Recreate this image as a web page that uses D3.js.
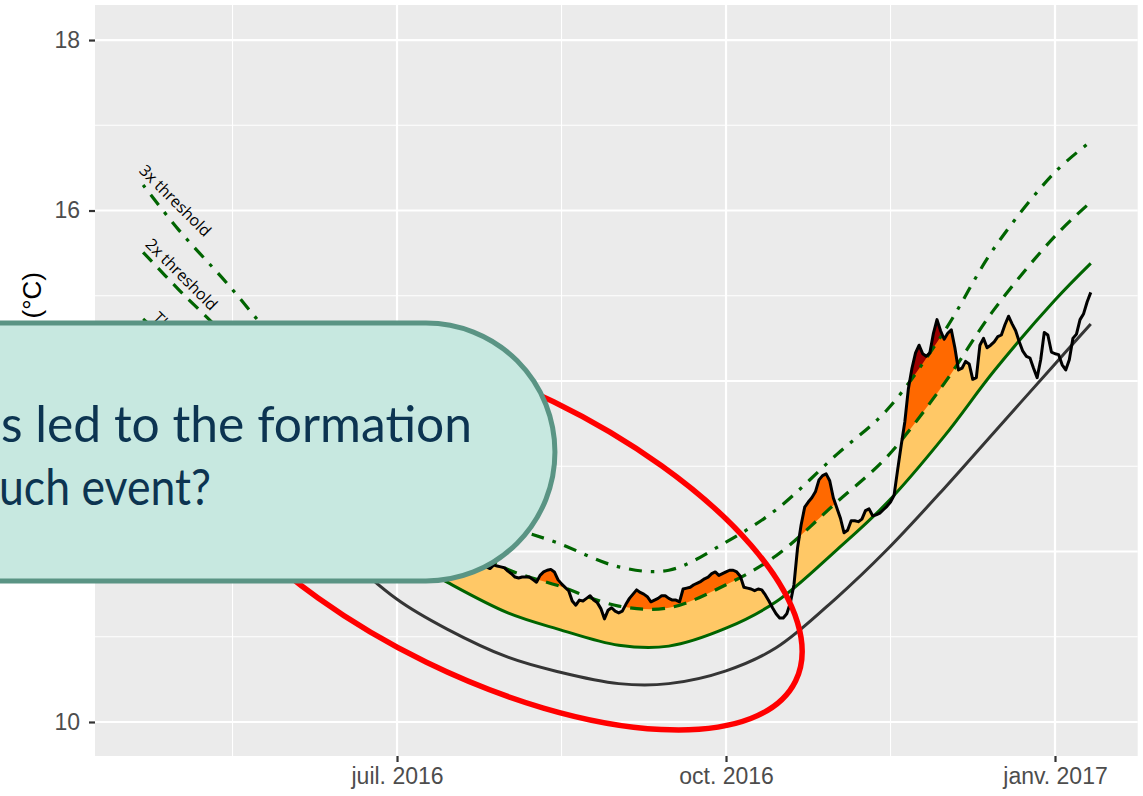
<!DOCTYPE html>
<html>
<head>
<meta charset="utf-8">
<script src="https://cdn.jsdelivr.net/npm/d3@7"></script>
<style>
  body { margin: 0; background: #ffffff; }
  svg { display: block; }
</style>
</head>
<body>
<div id="card"></div>
<script>
// climatology / thresholds at a few dates
const climDates = ["2016-04-21", "2016-05-01", "2016-05-15", "2016-06-01", "2016-06-15",
  "2016-07-01", "2016-07-15", "2016-08-01", "2016-08-15", "2016-09-01", "2016-09-15",
  "2016-10-01", "2016-10-15", "2016-11-01", "2016-11-15", "2016-12-01", "2016-12-15",
  "2017-01-01", "2017-01-11"];
const seasValues = [13.94, 13.66, 13.25, 12.64, 12.02, 11.44, 11.09, 10.76, 10.59, 10.45, 10.45,
  10.60, 10.87, 11.46, 12.02, 12.74, 13.40, 14.20, 14.67];
const threshValues = [14.73, 14.36, 13.87, 13.18, 12.55, 11.98, 11.64, 11.28, 11.09, 10.90, 10.89,
  11.10, 11.41, 12.02, 12.57, 13.35, 14.12, 14.95, 15.38];
const thresh2xValues = [15.51, 15.07, 14.49, 13.72, 13.07, 12.52, 12.19, 11.79, 11.60, 11.36, 11.34,
  11.61, 11.95, 12.58, 13.11, 13.97, 14.84, 15.70, 16.10];
const thresh3xValues = [16.30, 15.77, 15.12, 14.26, 13.60, 13.06, 12.74, 12.31, 12.10, 11.82, 11.78,
  12.11, 12.49, 13.14, 13.66, 14.58, 15.56, 16.45, 16.81];

// daily temperature from tempStart
const tempStart = "2016-07-01";
const tempValues = [
  12.30, 12.25, 12.35, 12.28, 12.20, 12.24, 12.30, 12.22, 12.15, 12.18,
  12.10, 12.05, 12.12, 12.08, 12.00, 11.98, 12.02, 11.95, 11.90, 11.93,
  11.88, 11.85, 11.90, 11.86, 11.84, 11.82, 11.80, 11.84, 11.83, 11.82,
  11.81, 11.77, 11.74, 11.70, 11.69, 11.70, 11.70, 11.70, 11.67, 11.64,
  11.72, 11.76, 11.78, 11.79, 11.76, 11.67, 11.62, 11.58, 11.54, 11.42,
  11.37, 11.43, 11.42, 11.45, 11.48, 11.43, 11.40, 11.33, 11.21, 11.31,
  11.34, 11.30, 11.28, 11.30, 11.38, 11.45, 11.50, 11.55, 11.52, 11.50,
  11.47, 11.41, 11.43, 11.45, 11.48, 11.48, 11.45, 11.43, 11.43, 11.41,
  11.56, 11.57, 11.58, 11.61, 11.63, 11.65, 11.68, 11.70, 11.74, 11.76,
  11.72, 11.74, 11.76, 11.78, 11.78, 11.76, 11.71, 11.58, 11.57, 11.56,
  11.54, 11.56, 11.55, 11.49, 11.42, 11.34, 11.27, 11.22, 11.22, 11.27,
  11.40, 11.61, 12.04, 12.31, 12.52, 12.58, 12.63, 12.70, 12.84, 12.89,
  12.91, 12.83, 12.63, 12.51, 12.39, 12.22, 12.25, 12.36, 12.36, 12.35,
  12.38, 12.48, 12.50, 12.42, 12.43, 12.45, 12.49, 12.53, 12.58, 12.66,
  12.96, 13.25, 13.52, 13.91, 14.15, 14.33, 14.42, 14.32, 14.29, 14.33,
  14.56, 14.72, 14.59, 14.49, 14.56, 14.60, 14.39, 14.13, 14.15, 14.23,
  14.20, 14.02, 14.04, 14.42, 14.50, 14.39, 14.42, 14.46, 14.52, 14.54,
  14.66, 14.76, 14.67, 14.59, 14.46, 14.35, 14.29, 14.27, 14.15, 14.04,
  14.25, 14.57, 14.54, 14.34, 14.32, 14.31, 14.19, 14.13, 14.25, 14.50,
  14.55, 14.72, 14.79, 14.93, 15.04
];

const xTickDates = ["2016-07-01", "2016-10-01", "2017-01-01"];
const xTickLabels = ["juil. 2016", "oct. 2016", "janv. 2017"];
const xMinorDates = ["2016-05-16", "2016-08-16", "2016-11-16"];
const yTicks = [10, 12, 14, 16, 18];
const yMinor = [11, 13, 15, 17];

const calloutLines = ["s led to the formation", "uch event?"];

const W = 1143, H = 796;
const margin = {top: 5, left: 95};
const width = 1042.7, height = 751;

const parseDate = d3.utcParse("%Y-%m-%d");

function series(values){
  return climDates.map((d, i) => ({date: parseDate(d), value: values[i]}));
}
const seas = series(seasValues);
const thresh = series(threshValues);
const thresh2x = series(thresh2xValues);
const thresh3x = series(thresh3xValues);
const t0 = parseDate(tempStart);
const temp = tempValues.map((v, i) => ({date: d3.utcDay.offset(t0, i), value: v}));

const svg = d3.select("#card").append("svg")
  .attr("width", W)
  .attr("height", H);

const defs = svg.append("defs");

const chart = svg.append("g")
  .attr("transform", "translate(" + margin.left + "," + margin.top + ")");

//scales
const x = d3.scaleUtc()
  .domain([Date.UTC(2016, 3, 7, 13), Date.UTC(2017, 0, 24, 3)])
  .range([0, width]);
const y = d3.scaleLinear()
  .domain([9.601, 18.411])
  .range([height, 0]);

//panel background
chart.append("rect")
  .attr("width", width)
  .attr("height", height)
  .attr("fill", "#EBEBEB");

//gridlines
chart.selectAll(".ygrid-minor").data(yMinor).enter().append("line")
  .attr("x1", 0).attr("x2", width)
  .attr("y1", d => y(d)).attr("y2", d => y(d))
  .attr("stroke", "#fff").attr("stroke-width", 1.1);
chart.selectAll(".xgrid-minor").data(xMinorDates).enter().append("line")
  .attr("y1", 0).attr("y2", height)
  .attr("x1", d => x(parseDate(d))).attr("x2", d => x(parseDate(d)))
  .attr("stroke", "#fff").attr("stroke-width", 1.1);
chart.selectAll(".ygrid").data(yTicks).enter().append("line")
  .attr("x1", 0).attr("x2", width)
  .attr("y1", d => y(d)).attr("y2", d => y(d))
  .attr("stroke", "#fff").attr("stroke-width", 2.2);
chart.selectAll(".xgrid").data(xTickDates).enter().append("line")
  .attr("y1", 0).attr("y2", height)
  .attr("x1", d => x(parseDate(d))).attr("x2", d => x(parseDate(d)))
  .attr("stroke", "#fff").attr("stroke-width", 2.2);

//line and area generators
const smooth = d3.curveCatmullRom.alpha(0.5);
const climLine = d3.line().x(d => x(d.date)).y(d => y(d.value)).curve(smooth);
const aboveArea = d3.area().x(d => x(d.date)).y0(-50).y1(d => y(d.value)).curve(smooth);
const tempLine = d3.line().x(d => x(d.date)).y(d => y(d.value));
const tempArea = d3.area().x(d => x(d.date)).y0(height + 50).y1(d => y(d.value));

//flames: area under temperature clipped above each threshold
const flames = [
  {id: "clip1x", data: thresh, fill: "#ffc866"},
  {id: "clip2x", data: thresh2x, fill: "#ff6900"},
  {id: "clip3x", data: thresh3x, fill: "#9e0000"}
];
flames.forEach(f => {
  defs.append("clipPath").attr("id", f.id)
    .append("path").attr("d", aboveArea(f.data));
  chart.append("path")
    .attr("d", tempArea(temp))
    .attr("fill", f.fill)
    .attr("clip-path", "url(#" + f.id + ")");
});

//lines
chart.append("path").attr("d", climLine(seas))
  .attr("fill", "none").attr("stroke", "#353535").attr("stroke-width", 3);
chart.append("path").attr("d", climLine(thresh))
  .attr("fill", "none").attr("stroke", "#006400").attr("stroke-width", 3);
chart.append("path").attr("d", climLine(thresh2x))
  .attr("fill", "none").attr("stroke", "#006400").attr("stroke-width", 3.2)
  .attr("stroke-dasharray", "13,9");
chart.append("path").attr("d", climLine(thresh3x))
  .attr("fill", "none").attr("stroke", "#006400").attr("stroke-width", 3.2)
  .attr("stroke-dasharray", "3.5,9,13,9");
chart.append("path").attr("d", tempLine(temp))
  .attr("fill", "none").attr("stroke", "#000").attr("stroke-width", 3)
  .attr("stroke-linejoin", "round");

//labels on the threshold lines
const lineLabels = [
  {text: "3x threshold", data: thresh3x, dx: -13},
  {text: "2x threshold", data: thresh2x, dx: -4},
  {text: "Threshold", data: thresh, dx: 6}
];
lineLabels.forEach(l => {
  const p = l.data[0];
  chart.append("text")
    .attr("transform", "translate(" + x(p.date) + "," + y(p.value) + ") rotate(45)")
    .attr("x", l.dx).attr("y", -6)
    .style("font-family", "'Open Sans', sans-serif")
    .style("font-size", "16px")
    .style("fill", "#000")
    .text(l.text);
});

//axes
const yAxis = chart.append("g")
  .call(d3.axisLeft(y).tickValues(yTicks).tickSize(6).tickPadding(9).tickFormat(d3.format("d")));
const xAxis = chart.append("g")
  .attr("transform", "translate(0," + height + ")")
  .call(d3.axisBottom(x).tickValues(xTickDates.map(parseDate)).tickSize(6).tickPadding(6)
    .tickFormat((d, i) => xTickLabels[i]));
[yAxis, xAxis].forEach(a => {
  a.select(".domain").remove();
  a.selectAll("line").attr("stroke", "#333").attr("stroke-width", 2.2);
  a.selectAll("text")
    .style("font-family", "'Liberation Sans', Arial, sans-serif")
    .style("font-size", "23px")
    .style("fill", "#4D4D4D");
});

//y axis title
svg.append("text")
  .attr("transform", "translate(41,272) rotate(-90)")
  .attr("text-anchor", "end")
  .style("font-family", "'Liberation Sans', Arial, sans-serif")
  .style("font-size", "26px")
  .style("fill", "#000")
  .text("Temperature (°C)");

//red ellipse annotation
svg.append("ellipse")
  .attr("cx", 490).attr("cy", 532)
  .attr("rx", 340).attr("ry", 145)
  .attr("transform", "rotate(26,490,532)")
  .attr("fill", "none")
  .attr("stroke", "#ff0000")
  .attr("stroke-width", 5.5);

//callout box on top
svg.append("path")
  .attr("d", "M-20,323 H426 A129,129 0 0 1 426,581 H-20 Z")
  .attr("fill", "#C7E8E0")
  .attr("stroke", "#5A9484")
  .attr("stroke-width", 5);

// the callout text is cut at the left edge, as in the slide
const calloutStart = [1, -1];
const calloutLength = [471, 212];
const calloutBase = [442, 505];
calloutLines.forEach((t, i) => {
  svg.append("text")
    .attr("x", calloutStart[i])
    .attr("y", calloutBase[i])
    .attr("textLength", calloutLength[i])
    .attr("lengthAdjust", "spacingAndGlyphs")
    .style("font-family", "'Gill Sans', Lato, sans-serif")
    .style("font-size", "50px")
    .style("fill", "#0C3451")
    .text(t);
});
</script>
</body>
</html>
